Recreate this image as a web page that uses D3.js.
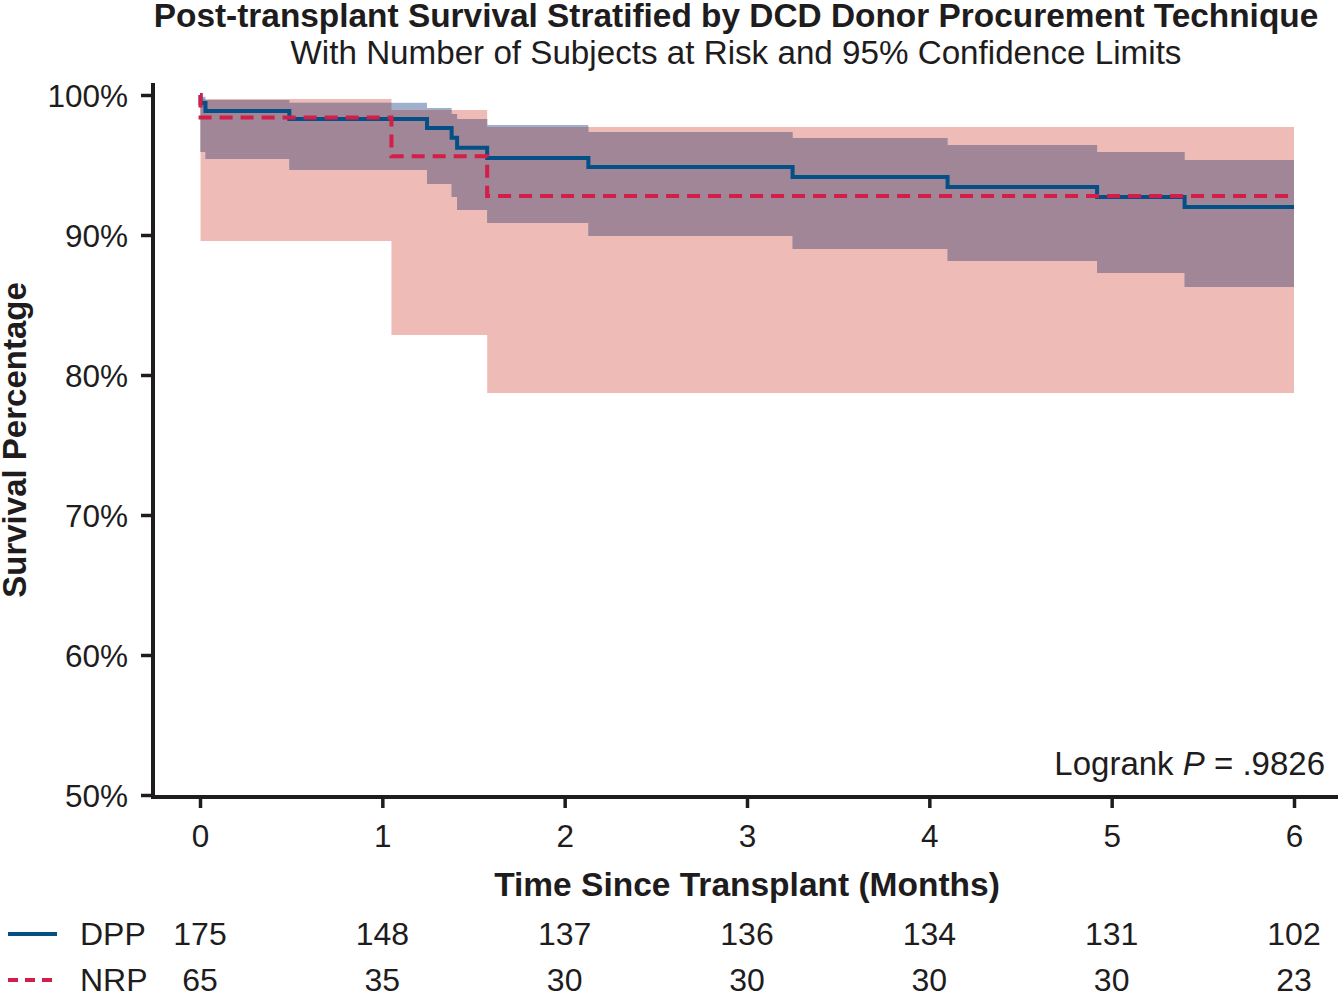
<!DOCTYPE html>
<html>
<head>
<meta charset="utf-8">
<script src="https://cdn.jsdelivr.net/npm/d3@7"></script>
<style>
  html, body { margin: 0; padding: 0; background: #fff; }
  svg { display: block; }
  text { font-family: "Liberation Sans", Arial, Helvetica, sans-serif; fill: #1e1c1d; }
</style>
</head>
<body>
<svg id="chart" width="1341" height="993"></svg>
<script>
// ---------------- data ----------------
const monthTicks = [0, 1, 2, 3, 4, 5, 6];
const percentTicks = [50, 60, 70, 80, 90, 100];
const endTime = 6;

// DPP Kaplan-Meier estimate (percent) and 95% confidence limits
const dppTime  = [0, 0.003, 0.03, 0.49, 1.245, 1.38, 1.41, 1.575, 2.13, 3.25, 4.10, 4.92, 5.40];
const dppSurv  = [100, 99.43, 98.86, 98.29, 97.64, 96.95, 96.24, 95.50, 94.86, 94.14, 93.43, 92.71, 92.00];
const dppUpper = [100, 99.88, 99.64, 99.45, 99.07, 98.64, 98.29, 97.86, 97.36, 96.93, 96.43, 95.93, 95.36];
const dppLower = [100, 95.93, 95.43, 94.64, 93.64, 92.71, 91.79, 90.86, 89.93, 89.00, 88.14, 87.29, 86.29];

// NRP Kaplan-Meier estimate (percent) and 95% confidence limits
const nrpTime  = [0, 0.003, 1.05, 1.575];
const nrpSurv  = [100, 98.40, 95.62, 92.79];
const nrpUpper = [100, 99.71, 98.93, 97.71];
const nrpLower = [100, 89.57, 82.86, 78.71];

// numbers at risk
const dppAtRisk = [175, 148, 137, 136, 134, 131, 102];
const nrpAtRisk = [65, 35, 30, 30, 30, 30, 23];

const groupNames = ["DPP", "NRP"];
const titleText = "Post-transplant Survival Stratified by DCD Donor Procurement Technique";
const subtitleText = "With Number of Subjects at Risk and 95% Confidence Limits";
const xTitle = "Time Since Transplant (Months)";
const yTitle = "Survival Percentage";

// ---------------- styles ----------------
const colDPP = "#045086";
const colNRP = "#d21e48";
const fillNRP = "#efbbb7";
const fillDPP = "#a0b0cc";
const fillBoth = "#a08696";
const axisCol = "#1e1c1d";

const svg = d3.select("#chart");

const x = d3.scaleLinear().domain([0, 6]).range([200, 1294]);
const y = d3.scaleLinear().domain([50, 100]).range([795, 95]);

function stepAt(times, vals, t) {
  const i = d3.bisectRight(times, t) - 1;
  return vals[Math.max(0, i)];
}

const allTimes = Array.from(new Set([...dppTime, ...nrpTime, endTime])).sort((a, b) => a - b);

const bandData = allTimes.map(t => {
  const dl = stepAt(dppTime, dppLower, t), du = stepAt(dppTime, dppUpper, t);
  const nl = stepAt(nrpTime, nrpLower, t), nu = stepAt(nrpTime, nrpUpper, t);
  const ol = Math.max(dl, nl), ou = Math.min(du, nu);
  return { t, dl, du, nl, nu, ol, ou: Math.max(ou, ol) };
});

const area = (lo, hi) => d3.area()
  .curve(d3.curveStepAfter)
  .x(d => x(d.t))
  .y0(d => y(d[lo]))
  .y1(d => y(d[hi]));

const plot = svg.append("g");
plot.append("path").datum(bandData).attr("d", area("nl", "nu")).attr("fill", fillNRP);
plot.append("path").datum(bandData).attr("d", area("dl", "du")).attr("fill", fillDPP);
plot.append("path").datum(bandData).attr("d", area("ol", "ou")).attr("fill", fillBoth);

const line = d3.line().curve(d3.curveStepAfter).x(d => x(d[0])).y(d => y(d[1]));
const dppPts = dppTime.map((t, i) => [t, dppSurv[i]]).concat([[endTime, dppSurv[dppSurv.length - 1]]]);
const nrpPts = nrpTime.map((t, i) => [t, nrpSurv[i]]).concat([[endTime, nrpSurv[nrpSurv.length - 1]]]);

plot.append("path").datum(dppPts).attr("d", line)
  .attr("fill", "none").attr("stroke", colDPP).attr("stroke-width", 4);
plot.append("path").datum(nrpPts).attr("d", line)
  .attr("fill", "none").attr("stroke", colNRP).attr("stroke-width", 4)
  .attr("stroke-dasharray", "13,8");

// ---------------- axes ----------------
const yAxis = svg.append("g").attr("transform", "translate(153,0)")
  .call(d3.axisLeft(y).tickValues(percentTicks).tickSize(12).tickPadding(13).tickFormat(d => d + "%"));
yAxis.select(".domain").remove();
yAxis.selectAll(".tick line").attr("stroke", axisCol).attr("stroke-width", 3.5);
yAxis.selectAll(".tick text").attr("font-size", 31.5).attr("dy", "0.35em").style("fill", axisCol);
svg.append("line").attr("x1", 153).attr("x2", 153).attr("y1", 83).attr("y2", 799)
  .attr("stroke", axisCol).attr("stroke-width", 4);

const xAxis = svg.append("g").attr("transform", "translate(0,797)")
  .call(d3.axisBottom(x).tickValues(monthTicks).tickSize(11).tickPadding(17).tickFormat(d3.format("d")));
xAxis.select(".domain").remove();
xAxis.selectAll(".tick line").attr("stroke", axisCol).attr("stroke-width", 3.5);
xAxis.selectAll(".tick text").attr("font-size", 31.5).style("fill", axisCol);
svg.append("line").attr("x1", 151).attr("x2", 1338).attr("y1", 797).attr("y2", 797)
  .attr("stroke", axisCol).attr("stroke-width", 4);

// ---------------- titles ----------------
svg.append("text").attr("x", 736).attr("y", 27).attr("text-anchor", "middle")
  .attr("font-size", 33.4).attr("font-weight", "bold").text(titleText);
svg.append("text").attr("x", 736).attr("y", 64).attr("text-anchor", "middle")
  .attr("font-size", 33.2).text(subtitleText);
svg.append("text").attr("x", 747).attr("y", 896).attr("text-anchor", "middle")
  .attr("font-size", 33.5).attr("font-weight", "bold").text(xTitle);
svg.append("text").attr("transform", "translate(26,440) rotate(-90)").attr("text-anchor", "middle")
  .attr("font-size", 33).attr("font-weight", "bold").text(yTitle);

// logrank
const lr = svg.append("text").attr("x", 1325).attr("y", 775).attr("text-anchor", "end").attr("font-size", 33);
lr.append("tspan").text("Logrank ");
lr.append("tspan").attr("font-style", "italic").text("P");
lr.append("tspan").text(" = .9826");

// ---------------- risk table ----------------
const rows = [
  { name: groupNames[0], vals: dppAtRisk, col: colDPP, dash: null, yb: 945 },
  { name: groupNames[1], vals: nrpAtRisk, col: colNRP, dash: "10,7", yb: 991 }
];
rows.forEach(r => {
  const g = svg.append("g");
  g.append("line").attr("x1", 8).attr("x2", 57).attr("y1", r.yb - 11).attr("y2", r.yb - 11)
    .attr("stroke", r.col).attr("stroke-width", 4).attr("stroke-dasharray", r.dash);
  g.append("text").attr("x", 80).attr("y", r.yb).attr("font-size", 32).text(r.name);
  g.selectAll("text.n").data(r.vals).join("text").attr("class", "n")
    .attr("x", (d, i) => x(monthTicks[i])).attr("y", r.yb)
    .attr("text-anchor", "middle").attr("font-size", 32).text(d => d);
});
</script>
</body>
</html>
